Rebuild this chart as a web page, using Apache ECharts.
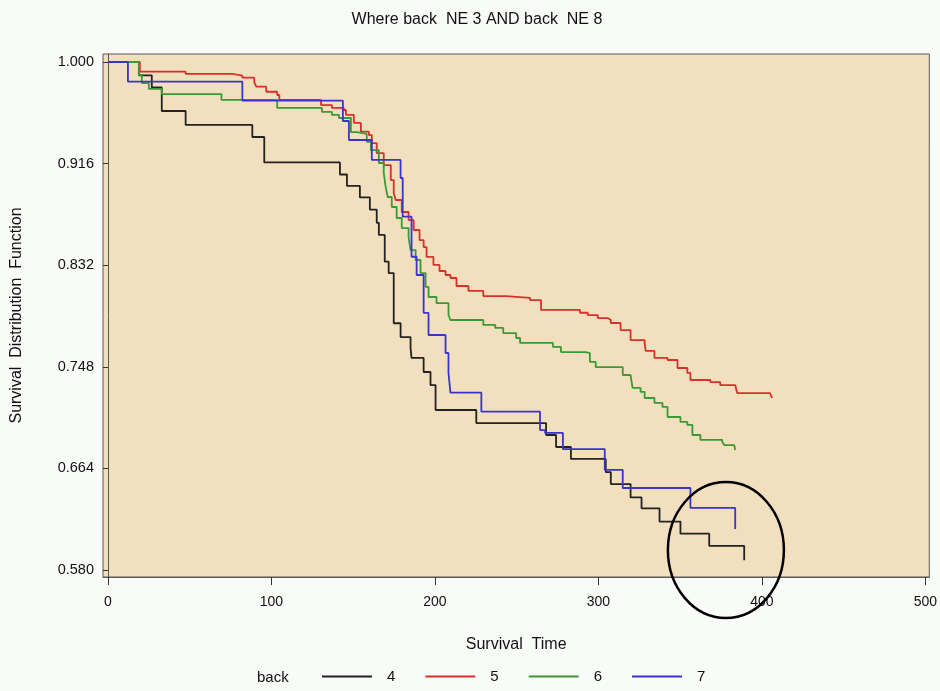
<!DOCTYPE html>
<html>
<head>
<meta charset="utf-8">
<style>
  html, body { margin: 0; padding: 0; background: #f9fbf8; }
  #chart { width: 940px; height: 691px; }
</style>
<script src="https://cdn.jsdelivr.net/npm/echarts@6/dist/echarts.min.js"></script>
</head>
<body>
<div id="chart"></div>
<script>
// survival curves (time, survival after the drop)
const time4 = [0, 18.9, 26.8, 32.9, 47.5, 88.3, 95.6, 141.9, 146.2, 154.1, 160.2, 164.4, 165.7, 169.3, 171.7, 174.8, 179.0, 185.1, 185.7, 193.1, 197.3, 200.4, 225.3, 268.0, 274.1, 283.2, 304.5, 307.6, 319.7, 326.4, 337.4, 350.2, 367.8, 389.2];
const surv4 = [1.000, 0.989, 0.979, 0.9595, 0.948, 0.938, 0.917, 0.907, 0.8975, 0.888, 0.878, 0.867, 0.857, 0.835, 0.8255, 0.784, 0.7726, 0.7635, 0.7553, 0.7437, 0.7329, 0.7123, 0.7015, 0.6916, 0.6817, 0.6718, 0.661, 0.651, 0.640, 0.631, 0.620, 0.610, 0.600, 0.588];

const time5 = [0, 19.5, 47.5, 76.1, 82.2, 89.5, 90.7, 96.8, 103.5, 104.8, 130.3, 137.0, 144.3, 145.6, 150.4, 154.7, 159.6, 161.4, 164.4, 168.7, 173.0, 174.8, 176.0, 179.7, 183.9, 187.0, 190.6, 193.1, 194.9, 199.1, 202.8, 206.5, 209.5, 213.2, 220.5, 229.6, 243.6, 258.2, 264.9, 288.7, 293.5, 299.6, 305.7, 307.6, 313.6, 319.7, 328.3, 328.9, 334.3, 342.3, 348.4, 354.4, 356.3, 368.5, 374.5, 383.7, 384.9, 405.0, 406.2];
const surv5 = [1.000, 0.9920, 0.9901, 0.9887, 0.9870, 0.9832, 0.9796, 0.9754, 0.9727, 0.9686, 0.9644, 0.9620, 0.9603, 0.9562, 0.9496, 0.9424, 0.9396, 0.9330, 0.9247, 0.9148, 0.9024, 0.8917, 0.8859, 0.8760, 0.8693, 0.8611, 0.8528, 0.8470, 0.8388, 0.8322, 0.8272, 0.8239, 0.8214, 0.8148, 0.8107, 0.8065, 0.8049, 0.8032, 0.7950, 0.7927, 0.7908, 0.7883, 0.7867, 0.7842, 0.7784, 0.7701, 0.7677, 0.7611, 0.7553, 0.7536, 0.7470, 0.7429, 0.7371, 0.7354, 0.7329, 0.7313, 0.7263, 0.7247, 0.7222];

const time6 = [0, 18.9, 20.7, 25.0, 32.9, 69.4, 103.5, 130.9, 137.0, 141.3, 148.6, 152.3, 158.3, 160.8, 165.7, 168.7, 169.9, 171.1, 173.6, 176.6, 179.7, 183.9, 185.1, 188.2, 191.2, 194.3, 196.1, 201.0, 208.3, 209.5, 229.6, 236.9, 241.8, 249.7, 252.1, 272.2, 277.1, 292.3, 294.8, 298.4, 314.9, 319.7, 320.9, 325.8, 328.3, 334.3, 339.2, 342.3, 350.2, 354.4, 357.5, 362.4, 375.8, 377.0, 383.1, 383.7];
const surv6 = [1.000, 0.9893, 0.9826, 0.9777, 0.9735, 0.9686, 0.9620, 0.9587, 0.9562, 0.9537, 0.9421, 0.9405, 0.9339, 0.9272, 0.9165, 0.9082, 0.8966, 0.8884, 0.8801, 0.8710, 0.8627, 0.8553, 0.8445, 0.8363, 0.8255, 0.8140, 0.8057, 0.8007, 0.7908, 0.7867, 0.7826, 0.7801, 0.7759, 0.7718, 0.7677, 0.7644, 0.7602, 0.7594, 0.7520, 0.7478, 0.7412, 0.7396, 0.7305, 0.7272, 0.7222, 0.7181, 0.7148, 0.7065, 0.7024, 0.6999, 0.6916, 0.6875, 0.6858, 0.6833, 0.6817, 0.6792];

const time7 = [0, 12.2, 82.2, 143.7, 147.4, 161.4, 179.0, 180.3, 185.7, 188.8, 193.1, 196.1, 206.5, 208.3, 209.5, 228.4, 264.3, 267.4, 278.3, 303.9, 314.9, 356.3, 383.7];
const surv7 = [1.000, 0.9837, 0.9680, 0.9512, 0.9355, 0.9190, 0.9041, 0.8721, 0.8390, 0.8239, 0.7925, 0.7743, 0.7594, 0.7429, 0.7266, 0.7109, 0.6957, 0.6933, 0.6800, 0.6627, 0.6478, 0.6313, 0.6139];

const groups = ['4', '5', '6', '7'];
const xTicks = [0, 100, 200, 300, 400, 500];
const yTicks = [0.580, 0.664, 0.748, 0.832, 0.916, 1.000];

const colors = ['#222222', '#d7312a', '#3b9a33', '#3a35c8'];
const font = '"Liberation Sans", Arial, sans-serif';

const pairs = (t, s) => t.map((v, i) => [v, s[i]]);
const curves = [pairs(time4, surv4), pairs(time5, surv5), pairs(time6, surv6), pairs(time7, surv7)];

const chart = echarts.init(document.getElementById('chart'));

chart.setOption({
  backgroundColor: '#f9fbf8',
  animation: false,
  color: colors,
  title: [
    {
      text: 'Where back  NE 3 AND back  NE 8',
      left: 472, top: 7, textAlign: 'center',
      textStyle: { fontFamily: font, fontSize: 16, fontWeight: 'normal', color: '#111' }
    },
    {
      text: 'back',
      left: 252, top: 665,
      textStyle: { fontFamily: font, fontSize: 15, fontWeight: 'normal', color: '#111' }
    }
  ],
  legend: {
    left: 322, top: 669, padding: 0,
    itemWidth: 50, itemHeight: 14, itemGap: 30,
    icon: 'path://M0,6 L50,6 L50,8 L0,8 Z',
    textStyle: { fontFamily: font, fontSize: 15, color: '#111', padding: [0, 0, 0, 10] },
    data: groups
  },
  grid: {
    left: 103, top: 54, width: 830, height: 523,
    show: true, backgroundColor: '#f2dfbe', borderColor: '#5a5a5a', borderWidth: 1
  },
  xAxis: {
    type: 'value', min: -3.05, max: 502.44,
    name: 'Survival  Time', nameLocation: 'middle', nameGap: 60,
    nameTextStyle: { fontFamily: font, fontSize: 16, color: '#111' },
    axisLine: { show: true, lineStyle: { color: '#5a5a5a' } },
    axisTick: { show: true, length: 8, customValues: xTicks, lineStyle: { color: '#333' } },
    axisLabel: { customValues: xTicks, margin: 18, fontFamily: font, fontSize: 14, color: '#111' },
    splitLine: { show: false }
  },
  yAxis: {
    type: 'value', min: 0.57421, max: 1.00661,
    name: 'Survival  Distribution  Function', nameLocation: 'middle', nameGap: 78,
    nameTextStyle: { fontFamily: font, fontSize: 16, color: '#111' },
    axisLine: { show: true, lineStyle: { color: '#5a5a5a' } },
    axisTick: { show: true, length: 5, customValues: yTicks, lineStyle: { color: '#333' } },
    axisLabel: {
      customValues: yTicks, margin: 9, fontFamily: font, fontSize: 14.5, color: '#111',
      formatter: (v) => v.toFixed(3)
    },
    splitLine: { show: false }
  },
  series: groups.map((g, i) => ({
    name: g,
    type: 'line',
    step: 'end',
    symbol: 'none',
    data: curves[i],
    lineStyle: { width: 1.8, color: colors[i] },
    itemStyle: { color: colors[i] },
    z: 2 + i
  }))
});

// hand-drawn circle around the tail of groups 4 and 7
const c = chart.convertToPixel({ xAxisIndex: 0, yAxisIndex: 0 }, [378, 0.5965]);
chart.setOption({
  graphic: [{
    type: 'ellipse',
    shape: { cx: c[0], cy: c[1], rx: 58, ry: 68 },
    style: { fill: 'none', stroke: '#000', lineWidth: 2.5 },
    z: 100
  }]
});
</script>
</body>
</html>
